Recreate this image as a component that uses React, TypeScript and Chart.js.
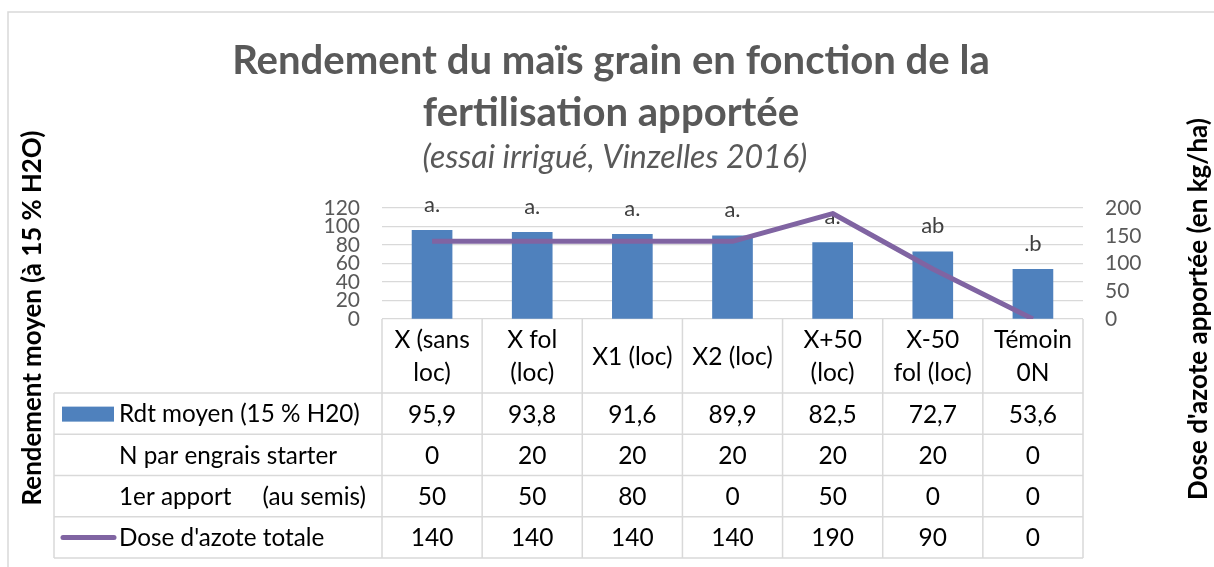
import React, { useEffect, useRef } from "react";
import { Chart, registerables } from "chart.js";

Chart.register(...registerables);

// ---------- data ----------
const categories: string[][] = [
  ["X (sans", "loc)"],
  ["X fol", "(loc)"],
  ["X1 (loc)"],
  ["X2 (loc)"],
  ["X+50", "(loc)"],
  ["X-50", "fol (loc)"],
  ["Témoin", "0N"],
];
const rendement = [95.9, 93.8, 91.6, 89.9, 82.5, 72.7, 53.6];
const nStarter = [0, 20, 20, 20, 20, 20, 0];
const premierApport = [50, 50, 80, 0, 50, 0, 0];
const doseTotale = [140, 140, 140, 140, 190, 90, 0];
const groupLetters = ["a.", "a.", "a.", "a.", "a.", "ab", ".b"];
const rowLabels = [
  "Rdt moyen (15 % H20)",
  "N par engrais starter",
  "1er apport     (au semis)",
  "Dose d'azote totale",
];
const titleLines = ["Rendement du maïs grain en fonction de la", "fertilisation apportée"];
const subtitleText = "(essai irrigué, Vinzelles 2016)";
const leftAxisTitle = "Rendement moyen (à 15 % H2O)";
const rightAxisTitle = "Dose d'azote apportée (en kg/ha)";

// ---------- styles ----------
const FONT = "Lato, 'Open Sans', sans-serif";
const BLUE = "#4F81BD";
const PURPLE = "#8064A2";
const GRID = "#D9D9D9";
const GRAY = "#595959";

const fmt = (v: number) => v.toFixed(1).replace(".", ",");

function fitSize(ctx: CanvasRenderingContext2D, text: string, style: string, base: number, target: number) {
  ctx.font = `${style} ${base}px ${FONT}`;
  const w = ctx.measureText(text).width;
  return (base * target) / w;
}

const decorPlugin = {
  id: "decor",
  beforeDraw(chart: any) {
    const ctx: CanvasRenderingContext2D = chart.ctx;
    ctx.save();
    ctx.fillStyle = "#ffffff";
    ctx.fillRect(0, 0, chart.width, chart.height);
    ctx.strokeStyle = GRID;
    ctx.lineWidth = 1.5;
    ctx.strokeRect(8, 12, chart.width + 20, chart.height + 20);
    ctx.restore();
  },
  beforeDatasetsDraw(chart: any) {
    const ctx: CanvasRenderingContext2D = chart.ctx;
    const meta = chart.getDatasetMeta(0);
    ctx.save();
    ctx.fillStyle = "#404040";
    ctx.font = `22px ${FONT}`;
    ctx.textAlign = "center";
    ctx.textBaseline = "alphabetic";
    meta.data.forEach((bar: any, i: number) => {
      ctx.fillText(groupLetters[i], bar.x, bar.y - 18.5);
    });
    ctx.restore();
  },
  afterDraw(chart: any) {
    const ctx: CanvasRenderingContext2D = chart.ctx;
    const area = chart.chartArea;
    const xScale = chart.scales.x;
    const n = categories.length;
    const colW = (area.right - area.left) / n;
    ctx.save();

    // titles
    ctx.fillStyle = GRAY;
    ctx.textAlign = "center";
    ctx.textBaseline = "middle";
    const ts = fitSize(ctx, titleLines[0], "bold", 38, 758);
    ctx.font = `bold ${ts}px ${FONT}`;
    ctx.fillText(titleLines[0], 611, 61);
    ctx.fillText(titleLines[1], 611, 113);
    const ss = fitSize(ctx, subtitleText, "italic", 26, 385);
    ctx.font = `italic ${ss}px ${FONT}`;
    ctx.fillText(subtitleText, 615, 158);

    // axis titles
    ctx.fillStyle = "#000000";
    const ls = fitSize(ctx, leftAxisTitle, "bold", 22, 375);
    ctx.font = `bold ${ls}px ${FONT}`;
    ctx.save();
    ctx.translate(33, 318);
    ctx.rotate(-Math.PI / 2);
    ctx.fillText(leftAxisTitle, 0, 0);
    ctx.restore();
    const rs = fitSize(ctx, rightAxisTitle, "bold", 22, 382);
    ctx.font = `bold ${rs}px ${FONT}`;
    ctx.save();
    ctx.translate(1199, 309);
    ctx.rotate(-Math.PI / 2);
    ctx.fillText(rightAxisTitle, 0, 0);
    ctx.restore();

    // table grid
    const top = area.bottom;
    const headBottom = 393;
    const rowH = (558 - headBottom) / 4;
    const tableLeft = 54;
    const tableBottom = headBottom + rowH * 4;
    ctx.strokeStyle = GRID;
    ctx.lineWidth = 1.5;
    ctx.beginPath();
    for (let i = 0; i <= n; i++) {
      const x = area.left + i * colW;
      ctx.moveTo(x, top);
      ctx.lineTo(x, tableBottom);
    }
    ctx.moveTo(tableLeft, headBottom);
    ctx.lineTo(tableLeft, tableBottom);
    for (let r = 0; r <= 4; r++) {
      const y = headBottom + r * rowH;
      ctx.moveTo(tableLeft, y);
      ctx.lineTo(area.right, y);
    }
    ctx.stroke();

    // header (category labels)
    ctx.fillStyle = "#000000";
    ctx.font = `24.5px ${FONT}`;
    ctx.textAlign = "center";
    ctx.textBaseline = "middle";
    categories.forEach((lines, i) => {
      const x = xScale.getPixelForValue(i);
      const mid = (top + headBottom) / 2 + 1;
      if (lines.length === 1) {
        ctx.fillText(lines[0], x, mid);
      } else {
        ctx.fillText(lines[0], x, mid - 16.5);
        ctx.fillText(lines[1], x, mid + 16.5);
      }
    });

    // rows
    const rows = [rendement.map(fmt), nStarter.map(String), premierApport.map(String), doseTotale.map(String)];
    const labelSize = fitSize(ctx, rowLabels[0], "normal", 24, 241);
    rows.forEach((vals, r) => {
      const yc = headBottom + rowH * (r + 0.5) + 1;
      ctx.font = `24.5px ${FONT}`;
      vals.forEach((v, i) => {
        ctx.textAlign = "center";
        ctx.fillText(v, xScale.getPixelForValue(i), yc);
      });
      ctx.font = `${labelSize}px ${FONT}`;
      ctx.textAlign = "left";
      ctx.fillText(rowLabels[r], 119, yc);
    });

    // legend keys
    ctx.fillStyle = BLUE;
    ctx.fillRect(62, headBottom + rowH * 0.5 - 7, 52, 15);
    ctx.strokeStyle = PURPLE;
    ctx.lineWidth = 5;
    ctx.lineCap = "round";
    ctx.beginPath();
    ctx.moveTo(63, headBottom + rowH * 3.5);
    ctx.lineTo(114, headBottom + rowH * 3.5);
    ctx.stroke();

    ctx.restore();
  },
};

export default function App() {
  const ref = useRef<HTMLCanvasElement>(null);
  useEffect(() => {
    document.body.style.margin = "0";
    const canvas = ref.current!;
    const chart = new Chart(canvas, {
      type: "bar",
      data: {
        labels: categories.map((c) => c.join(" ")),
        datasets: [
          {
            type: "bar",
            label: rowLabels[0],
            data: rendement,
            yAxisID: "y",
            backgroundColor: BLUE,
            barThickness: 40,
            order: 1,
          } as any,
          {
            type: "line",
            label: rowLabels[3],
            data: doseTotale,
            yAxisID: "y1",
            borderColor: PURPLE,
            backgroundColor: PURPLE,
            borderWidth: 5,
            pointRadius: 0,
            tension: 0,
            borderJoinStyle: "round",
            order: 0,
          } as any,
        ],
      },
      options: {
        responsive: false,
        animation: false,
        devicePixelRatio: 1,
        layout: { padding: { top: 208, bottom: 248, left: 0, right: 0 } },
        plugins: {
          legend: { display: false },
          title: { display: false },
          tooltip: { enabled: false },
        },
        scales: {
          x: { display: false, offset: true, grid: { display: false } },
          y: {
            position: "left",
            min: 0,
            max: 120,
            ticks: {
              stepSize: 20,
              autoSkip: false,
              padding: 22,
              color: GRAY,
              font: { family: FONT, size: 21 },
            },
            grid: { color: GRID, lineWidth: 1.3, drawTicks: false },
            border: { display: false },
            afterFit(s: any) {
              s.width = 382;
            },
          },
          y1: {
            position: "right",
            min: 0,
            max: 200,
            ticks: {
              stepSize: 50,
              autoSkip: false,
              padding: 22,
              color: GRAY,
              font: { family: FONT, size: 21 },
            },
            grid: { display: false, drawTicks: false },
            border: { display: false },
            afterFit(s: any) {
              s.width = 131;
            },
          },
        },
      } as any,
      plugins: [decorPlugin],
    });
    return () => chart.destroy();
  }, []);
  return <canvas ref={ref} width={1214} height={567} style={{ display: "block" }} />;
}
